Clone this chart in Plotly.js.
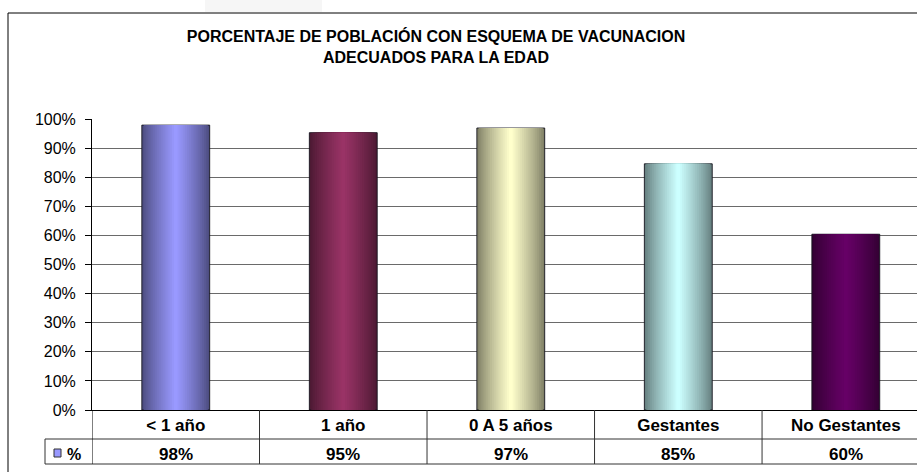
<!DOCTYPE html>
<html>
<head>
<meta charset="utf-8">
<script src="https://cdn.plot.ly/plotly-3.0.1.min.js"></script>
<style>
html,body{margin:0;padding:0;background:#fff;overflow:hidden;}
#chart{width:917px;height:472px;}
</style>
</head>
<body>
<div id="chart"></div>
<script>
// ---- data ----
const categories = ['< 1 año', '1 año', '0 A 5 años', 'Gestantes', 'No Gestantes'];
const values = [0.979, 0.953, 0.969, 0.846, 0.604];
const seriesName = '%';
const yTickVals = [0, 0.1, 0.2, 0.3, 0.4, 0.5, 0.6, 0.7, 0.8, 0.9, 1.0];
const titleText = 'PORCENTAJE DE POBLACIÓN CON ESQUEMA DE VACUNACION<br>ADECUADOS PARA LA EDAD';

// ---- styling ----
const baseColors = [[0x99,0x99,0xFF],[0x99,0x33,0x66],[0xFF,0xFF,0xCC],[0xCC,0xFF,0xFF],[0x66,0x00,0x66]];
const FONT = 'Liberation Sans, Arial, sans-serif';
const W = 0.405, N = 18;

function mix(c, f){ // f: 0 -> edge (dark), 1 -> centre (base)
  const k = 0.45 + 0.55*f;
  return 'rgb(' + c.map(v => Math.round(v*k)).join(',') + ')';
}

const traces = [];
for (let k = 0; k < N; k++) {
  const t = (N - k) / N;
  const f = Math.pow(1 - t + 1/N, 0.8);
  traces.push({
    type: 'bar',
    x: categories,
    y: values,
    width: W * t,
    name: seriesName,
    showlegend: false,
    hoverinfo: k === 0 ? 'x+y' : 'skip',
    marker: {
      color: baseColors.map(c => mix(c, Math.min(1, f))),
      line: {width: k === 0 ? 1 : 0, color: 'rgba(20,20,30,0.9)'}
    }
  });
}

// paper-coordinate helpers from pixel positions of the frame
const L = 92, T = 119, PW = 825, PH = 291;
const px = p => (p - L) / PW;
const py = p => (T + PH - p) / PH;

const shapes = [];
const lineC = '#333';
// outer frame
shapes.push({type:'line', xref:'paper', yref:'paper', x0:px(8), x1:px(930), y0:py(13), y1:py(13), line:{color:'#000', width:1}});
shapes.push({type:'line', xref:'paper', yref:'paper', x0:px(8), x1:px(8), y0:py(13), y1:py(480), line:{color:'#000', width:1}});
// faint tab at top
shapes.push({type:'rect', xref:'paper', yref:'paper', x0:px(205), x1:px(322), y0:py(0), y1:py(12), fillcolor:'#f6f6f6', line:{width:0}});
// data table lines
shapes.push({type:'line', xref:'paper', yref:'paper', x0:px(45), x1:px(930), y0:py(439), y1:py(439), line:{color:lineC, width:1}});
shapes.push({type:'line', xref:'paper', yref:'paper', x0:px(45), x1:px(930), y0:py(464), y1:py(464), line:{color:lineC, width:1}});
shapes.push({type:'line', xref:'paper', yref:'paper', x0:px(45), x1:px(45), y0:py(439), y1:py(464), line:{color:lineC, width:1}});
for (let i = 0; i < categories.length; i++) {
  shapes.push({type:'line', xref:'x', yref:'paper', x0:i-0.5, x1:i-0.5, y0:0, y1:py(464), line:{color: i===0 ? '#000' : lineC, width:1}});
}
// legend key
shapes.push({type:'rect', xref:'paper', yref:'paper', x0:px(54), x1:px(61), y0:py(449), y1:py(457), fillcolor:'#9999ff', line:{color:'#333', width:1}});

const annotations = [];
values.forEach((v, i) => {
  annotations.push({xref:'x', yref:'paper', x:categories[i], y:py(454), text:'<b>' + Math.round(v*100) + '%</b>',
    showarrow:false, xanchor:'center', yanchor:'middle', font:{family:FONT, size:17, color:'#000'}});
});
annotations.push({xref:'paper', yref:'paper', x:px(65), y:py(454), text:'<b>' + seriesName + '</b>', showarrow:false,
  xanchor:'left', yanchor:'middle', font:{family:FONT, size:16, color:'#000'}});

const layout = {
  width: 917, height: 472,
  margin: {l: L, r: 0, t: T, b: 472 - T - PH, pad: 0},
  paper_bgcolor: '#fff', plot_bgcolor: '#fff',
  barmode: 'overlay',
  showlegend: false,
  title: {
    text: titleText,
    font: {family: FONT, size: 16, color: '#000', weight: 'bold'},
    xref: 'container', x: 436/917, xanchor: 'center',
    yref: 'container', y: 1 - 42/472, yanchor: 'top'
  },
  xaxis: {
    type: 'category',
    range: [-0.5, 4.425],
    showline: true, linecolor: '#000', linewidth: 1,
    ticks: '', showgrid: false,
    tickfont: {family: FONT, size: 17, color: '#000', weight: 'bold'},
    ticklabelstandoff: 0,
    fixedrange: true
  },
  yaxis: {
    range: [0, 1],
    tickvals: yTickVals,
    tickformat: '.0%',
    showline: true, linecolor: '#000', linewidth: 1,
    ticks: 'outside', ticklen: 6, tickcolor: '#000',
    showgrid: true, gridcolor: '#6a6a6a', gridwidth: 1,
    zeroline: false,
    tickfont: {family: FONT, size: 16, color: '#000'},
    ticklabelstandoff: 6,
    fixedrange: true
  },
  shapes: shapes,
  annotations: annotations
};

Plotly.newPlot('chart', traces, layout, {displayModeBar: false, staticPlot: true});
</script>
</body>
</html>
